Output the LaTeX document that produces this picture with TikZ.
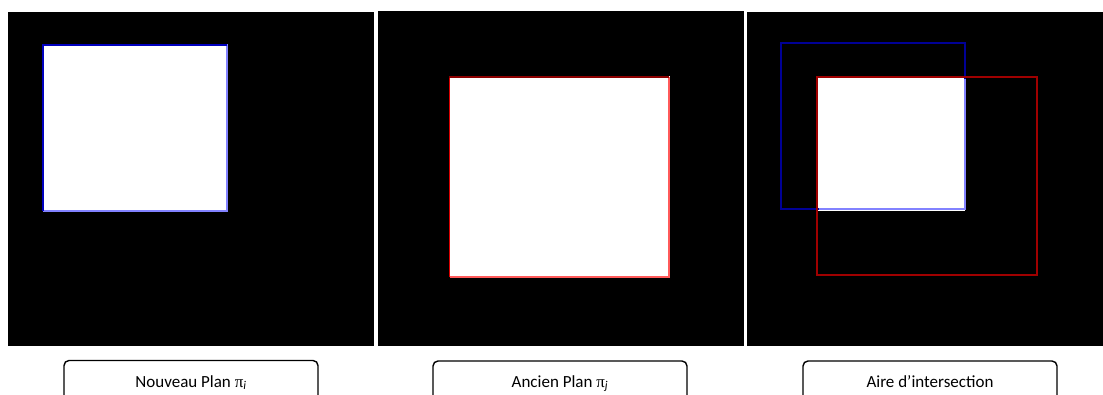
\documentclass[tikz,border=0pt]{standalone}
\usepackage{fontspec}
\setmainfont{Carlito}
\newfontfamily\pifont{Liberation Serif}
\definecolor{dkblue}{RGB}{0,0,190}
\definecolor{ltblue}{RGB}{130,130,255}
\definecolor{dkred}{RGB}{140,0,0}
\definecolor{ltred}{RGB}{255,90,90}
\definecolor{mdred}{RGB}{220,0,0}
\definecolor{navy3}{RGB}{0,0,150}
\definecolor{red3}{RGB}{160,0,0}
\begin{document}
\begin{tikzpicture}[x=1pt,y=-1pt,
  panel/.style={fill=black,draw=none},
  labelbox/.style={draw=black,line width=1.4pt,rounded corners=5pt},
  labeltext/.style={font=\fontsize{17}{20}\selectfont,inner sep=0pt,anchor=base},
  darkblue/.style={draw=dkblue,line width=1.8pt},
  lightblue/.style={draw=ltblue,line width=1.6pt},
  darkred/.style={draw=dkred,line width=1.8pt},
  lightred/.style={draw=ltred,line width=1.6pt},
  outline/.style={line width=1.6pt}]
\useasboundingbox (0,0) rectangle (1103,394);
\clip (0,0) rectangle (1103,394);
% panels
\fill[panel] (8,12) rectangle (374,346);
\fill[panel] (378,11) rectangle (744,346);
\fill[panel] (747,12) rectangle (1103,346);
% panel 1
\fill[white] (43,44) rectangle (227,211);
\draw[lightblue] (227,44) -- (227,211) -- (43,211);
\draw[darkblue] (43,211) -- (43,45) -- (227,45);
% panel 2
\fill[white] (449,76) rectangle (670,277);
\draw[lightred] (669,77) -- (669,277) -- (450,277);
\draw[mdred] (449,277) -- (449,77);
\draw[darkred] (449,77) -- (669,77);
% panel 3
\fill[white] (818,78) rectangle (965,211);
\draw[navy3,outline] (781,43) rectangle (965,209);
\draw[red3,outline] (817,77) rectangle (1037,275);
\draw[lightblue] (965,79) -- (965,209) -- (819,209);
% labels
\draw[labelbox] (64,360.5) rectangle (318,410);
\node[labeltext] (l1) at (191,387) {Nouveau Plan {\pifont π}\textsubscript{\textit{i}}};
\draw[labelbox] (433,361) rectangle (687,410);
\node[labeltext] (l2) at (560,387) {Ancien Plan {\pifont π}\textsubscript{\textit{j}}};
\draw[labelbox] (803,361) rectangle (1057,410);
\node[labeltext] (l3) at (930,387) {Aire d’intersection};
\end{tikzpicture}
\end{document}
